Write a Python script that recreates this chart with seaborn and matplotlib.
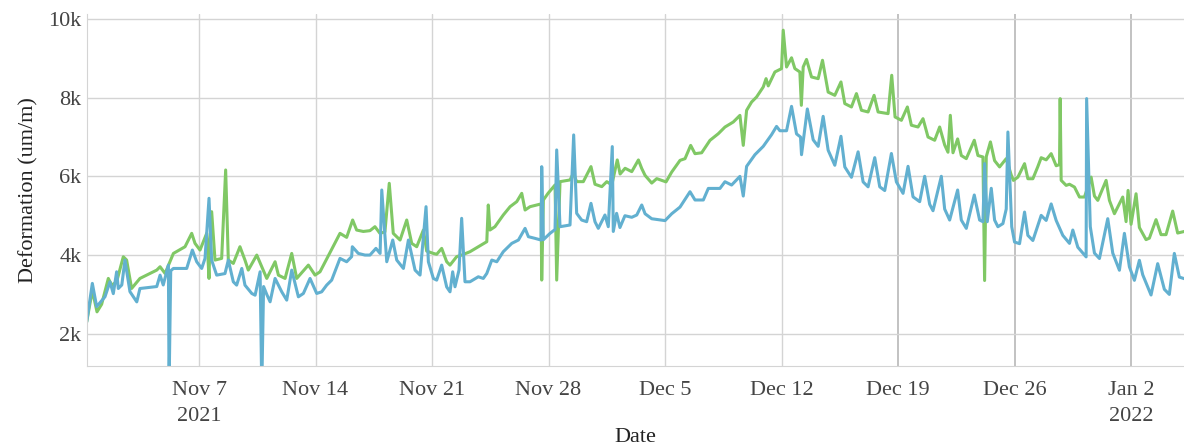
import pandas as pd
from matplotlib import pyplot as plt
import seaborn as sns

# days since 2021-10-31 00:00
start = pd.Timestamp('2021-10-31')

green_day = [0.25, 0.59, 0.87, 1.15, 1.55, 1.75, 2.05, 2.45, 2.65, 2.95, 3.45, 4.46, 4.66, 4.96,
             5.46, 6.16, 6.56, 6.76, 7.06, 7.46, 7.6, 7.66, 7.76, 7.96, 8.36, 8.6, 8.76, 9.06,
             9.46, 9.76, 9.96, 10.47, 10.77, 11.07, 11.57, 11.77, 12.17, 12.57, 12.87, 13.57,
             13.97, 14.27, 15.47, 15.87, 16.23, 16.47, 16.87, 17.27, 17.57, 17.87, 18.17, 18.43,
             18.67, 19.08, 19.48, 19.78, 20.08, 20.48, 20.68, 21.08, 21.28, 21.58, 21.88, 22.08,
             22.48, 22.78, 23.28, 23.78, 24.29, 24.38, 24.48, 24.78, 25.28, 25.69, 26.09, 26.39,
             26.59, 26.89, 27.29, 27.55, 27.59, 27.69, 27.97, 28.39, 28.49, 28.69, 29.29, 29.49,
             29.69, 30.09, 30.55, 30.79, 31.2, 31.5, 31.8, 32.13, 32.3, 32.6, 33.0, 33.4, 33.6,
             33.8, 34.2, 34.5, 34.8, 35.06, 35.4, 35.9, 36.2, 36.54, 36.8, 37.2, 37.7, 38.2, 38.6,
             39.1, 39.5, 39.7, 39.9, 40.2, 40.5, 40.9, 41.07, 41.2, 41.6, 42.0, 42.1, 42.3, 42.6,
             42.8, 43.1, 43.19, 43.3, 43.5, 43.8, 44.2, 44.46, 44.8, 45.2, 45.57, 45.8, 46.2, 46.5,
             46.8, 47.2, 47.56, 47.8, 48.4, 48.62, 48.82, 49.2, 49.56, 49.8, 50.2, 50.5, 50.8,
             51.2, 51.5, 51.8, 52.0, 52.14, 52.3, 52.58, 52.8, 53.1, 53.58, 53.8, 54.1, 54.2, 54.3,
             54.55, 54.8, 55.1, 55.5, 55.8, 55.93, 56.2, 56.6, 56.8, 57.1, 57.4, 57.6, 57.9, 58.2,
             58.5, 58.7, 58.74, 58.8, 59.1, 59.3, 59.6, 59.9, 60.2, 60.6, 60.8, 61.0, 61.5, 61.7,
             62.0, 62.5, 62.7, 62.82, 63.0, 63.3, 63.5, 63.9, 64.1, 64.5, 64.8, 65.1, 65.5, 65.8,
             66.2]
green_val = [2300, 3100, 2557, 2750, 3406, 3236, 3320, 3957, 3873, 3151, 3406, 3618, 3703, 3533,
             4042, 4212, 4552, 4297, 4127, 4552, 3406, 4400, 5103, 3873, 3915, 6163, 3873, 3788,
             4212, 3873, 3618, 4000, 3700, 3406, 3830, 3490, 3406, 4042, 3406, 3745,
             3491, 3575, 4552, 4450, 4891, 4636, 4600, 4620, 4721, 4552, 4590, 5824,
             4552, 4382, 4891, 4297, 4212, 4636, 4100, 4042, 4020, 4170, 3830, 3745,
             3960, 4000, 4085, 4212, 4340, 5273, 4636, 4721, 5018, 5230, 5358, 5569,
             5145, 5230, 5273, 5300, 3364, 5400, 5569, 5782, 3364, 5866, 5909, 6078,
             5866, 5866, 6248, 5800, 5739, 5866, 5782, 6418, 6060, 6206, 6120, 6418, 6200,
             6025, 5830, 5943, 5900, 5860, 6110, 6407, 6450, 6788, 6577, 6600, 6916, 7085, 7254,
             7382, 7551, 6788, 7678, 7890, 8018, 8272, 8484, 8300, 8654, 8739, 9716, 8780, 9015,
             8740, 8654, 7806, 8780, 8972, 8527, 8484, 8951, 8142, 8060, 8400, 7850, 7764, 8104,
             7680, 7637, 8060, 7637, 7595, 8570, 7510, 7425, 7764, 7300, 7255, 7467, 7000,
             6918, 7255, 6800, 6614, 7552, 6600, 6952, 6530, 6451, 6918, 6530, 6494, 3353, 6500,
             6876, 6400, 6240, 6451, 6036, 5898, 5980, 6323, 5940, 5940, 6250, 6475, 6420, 6578,
             6270, 6300, 7976, 5900, 5771, 5800, 5728, 5475, 5475, 5982, 5500, 5390, 5898, 5390,
             5051, 5475, 4850, 5643, 4782, 5558, 4700, 4392, 4430, 4900, 4519, 4519, 5118, 4560,
             4600]

blue_day = [0.25, 0.59, 0.85, 1.35, 1.65, 1.85, 2.05, 2.15, 2.36, 2.55, 2.85, 3.26, 3.45, 4.46,
            4.66, 4.85, 5.16, 5.2, 5.3, 5.46, 5.96, 6.26, 6.6, 6.86, 7.16, 7.36, 7.6, 7.76, 8.06,
            8.56, 8.76, 9.06, 9.26, 9.57, 9.76, 10.17, 10.37, 10.67, 10.77, 10.88, 11.07, 11.27,
            11.57, 11.97, 12.27, 12.57, 12.97, 13.27, 13.67, 14.07, 14.37, 14.67, 14.97, 15.47,
            15.87, 16.17, 16.21, 16.57, 16.97, 17.27, 17.63, 17.88, 17.98, 18.28, 18.64, 18.88,
            19.28, 19.58, 19.98, 20.28, 20.64, 20.78, 21.08, 21.28, 21.58, 21.88, 22.08, 22.24,
            22.38, 22.62, 22.78, 22.98, 23.28, 23.78, 24.08, 24.29, 24.59, 24.89, 25.28, 25.79,
            26.19, 26.59, 26.79, 27.19, 27.55, 27.59, 27.69, 28.09, 28.39, 28.49, 28.69, 29.29,
            29.51, 29.69, 29.99, 30.29, 30.55, 30.79, 30.99, 31.39, 31.59, 31.83, 31.89, 32.09,
            32.29, 32.59, 33.0, 33.3, 33.6, 33.8, 34.2, 34.6, 35.0, 35.4, 35.9, 36.5, 36.8, 37.3,
            37.6, 38.3, 38.6, 39.0, 39.5, 39.7, 39.9, 40.4, 40.9, 41.4, 41.7, 41.9, 42.3, 42.6,
            42.9, 43.14, 43.2, 43.55, 43.9, 44.2, 44.5, 44.8, 45.2, 45.57, 45.8, 46.2, 46.6,
            46.9, 47.2, 47.6, 47.9, 48.2, 48.6, 48.9, 49.3, 49.6, 49.9, 50.3, 50.6, 50.9, 51.1,
            51.6, 51.8, 52.1, 52.58, 52.8, 53.1, 53.58, 53.9, 54.1, 54.2, 54.36, 54.6, 54.8,
            55.0, 55.3, 55.5, 55.6, 55.83, 56.0, 56.3, 56.6, 56.8, 57.1, 57.6, 57.9, 58.2, 58.5,
            58.9, 59.3, 59.5, 59.8, 60.3, 60.33, 60.55, 60.8, 61.1, 61.6, 61.9, 62.3, 62.6, 62.9,
            63.2, 63.5, 63.7, 64.2, 64.6, 65.0, 65.3, 65.6, 65.9, 66.2]
blue_val = [2300, 3280, 2690, 2940, 3320, 3020, 3575, 3150, 3240, 3870, 3070, 2810, 3150, 3200,
            3490, 3240, 3745, 600, 3600, 3660, 3660, 3660, 4127, 3830, 3660, 3915, 5443, 3870, 3490,
            3530, 3873, 3321, 3236, 3660, 3236, 3024, 2980, 3575, 600, 3200, 3000, 2812,
            3406, 3066, 2855, 3618, 2939, 3024, 3406, 3024, 3066, 3236, 3363, 3915,
            3830, 3960, 4212, 4042, 4000, 4000, 4170, 4042, 5654, 3830, 4382, 3873,
            3660, 4382, 3618, 3491, 5230, 3830, 3406, 3363, 3745, 3190, 3066, 3575,
            3194, 3618, 4934, 3321, 3321, 3448, 3406, 3533, 3873, 3830, 4085, 4297,
            4382, 4679, 4467, 4424, 4382, 6247, 4390, 4552, 4650, 6672, 4721, 4764,
            7054, 5061, 4890, 4848, 5315, 4848, 4679, 5018, 4721, 6757, 4600, 5061,
            4700, 5000, 4960, 5018, 5273, 5050, 4923, 4900, 4876, 5050, 5220, 5610, 5400, 5400,
            5694, 5694, 5864, 5780, 6000, 5500, 6254, 6551, 6763, 7060, 7270, 7160, 7160, 7780,
            7080, 7000, 6551, 7713, 6930, 6763, 7526, 6665, 6283, 7019, 6240, 5976, 6624,
            5860, 5734, 6476, 5734, 5640, 6582, 5860, 5569, 6256, 5480, 5357, 6002, 5290, 5127,
            6002, 5170, 4890, 5654, 4890, 4679, 5527, 4890, 4848, 6325, 4848, 5697, 4890,
            4720, 4800, 5170, 7128, 4720, 4331, 4290, 5093, 4500, 4370, 5009, 4880, 5300, 4880,
            4500, 4297, 4636, 4200, 3954, 7977, 4721, 4050, 3912, 4925, 4050, 3614, 4552, 3700,
            3358, 3867, 3500, 2985, 3782, 3130, 3000, 4042, 3440, 3400]

week_ticks = ['2021-11-07', '2021-11-14', '2021-11-21', '2021-11-28', '2021-12-05',
              '2021-12-12', '2021-12-19', '2021-12-26', '2022-01-02']
week_labels = ['Nov 7\n2021', 'Nov 14', 'Nov 21', 'Nov 28', 'Dec 5',
               'Dec 12', 'Dec 19', 'Dec 26', 'Jan 2\n2022']
y_ticks = [2000, 4000, 6000, 8000, 10000]
y_labels = ['2k', '4k', '6k', '8k', '10k']


def main():
    green = pd.DataFrame({'Date': start + pd.to_timedelta(green_day, unit='D'),
                          'value': green_val, 'series': 'green'})
    blue = pd.DataFrame({'Date': start + pd.to_timedelta(blue_day, unit='D'),
                         'value': blue_val, 'series': 'blue'})
    data = pd.concat([green, blue], ignore_index=True)

    sns.set_style('white')
    plt.rcParams['font.family'] = ['Liberation Serif', 'DejaVu Serif']
    fig = plt.figure(figsize=(11.84, 4.48), dpi=100)
    ax = fig.add_axes([0.0735, 0.183, 0.9265, 0.786])

    sns.lineplot(data=data, x='Date', y='value', hue='series', units='series',
                 estimator=None, sort=False, palette={'green': '#80c865', 'blue': '#62b0d0'},
                 linewidth=2.2, legend=False, ax=ax)

    ax.set_xlim(pd.Timestamp('2021-10-31 06:30'), pd.Timestamp('2022-01-05 04:20'))
    ax.set_ylim(1180, 10130)
    ax.set_xticks(pd.to_datetime(week_ticks))
    ax.set_xticklabels(week_labels, linespacing=1.55)
    ax.set_yticks(y_ticks)
    ax.set_yticklabels(y_labels)
    ax.grid(True, color='#d4d4d4', linewidth=1)
    # the last three week lines show up darker in the original
    for gl in ax.get_xgridlines()[6:]:
        gl.set_color('#c2c2c2')
        gl.set_linewidth(1.4)
    for s in ['top', 'right']:
        ax.spines[s].set_visible(False)
    for s in ['left', 'bottom']:
        ax.spines[s].set_color('#d4d4d4')
    ax.tick_params(axis='both', length=0, labelsize=16, labelcolor='#444444')
    ax.tick_params(axis='x', pad=10.5)
    ax.tick_params(axis='y', pad=4)
    ax.set_xlabel('Date', fontsize=16, color='#222222', labelpad=1)
    ax.set_ylabel('Deformation (um/m)', fontsize=16, color='#222222', labelpad=7)
    ax.set_axisbelow(True)
    fig.savefig('out.png', dpi=100)


if __name__ == '__main__':
    main()
